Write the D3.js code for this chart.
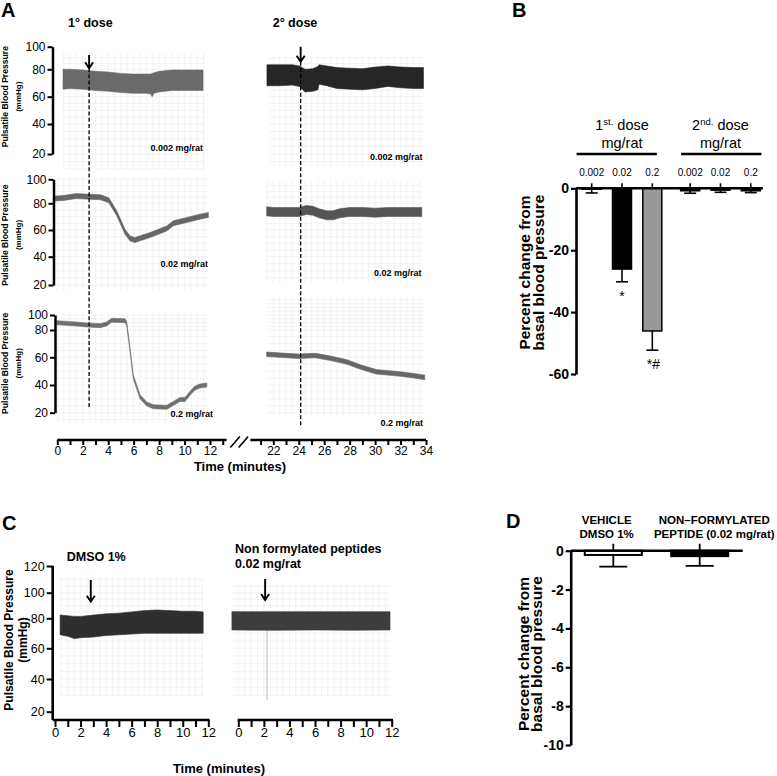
<!DOCTYPE html>
<html><head><meta charset="utf-8">
<script src="https://cdn.jsdelivr.net/npm/d3@7"></script>
<style>body{margin:0;background:#fff}svg{display:block}</style>
</head><body><svg id="fig" width="777" height="776"></svg>
<script>
// ================= DATA =================
const leftTimeTicks = [0,2,4,6,8,10,12];
const rightTimeTicks = [22,24,26,28,30,32,34];
const pressureTicks = [20,40,60,80,100];
const cPressureTicks = [20,40,60,80,100,120];
const doseTitles = ["1\u00b0 dose","2\u00b0 dose"];
const doseLabels = ["0.002 mg/rat","0.02 mg/rat","0.2 mg/rat"];
const doseTimes = [2.5, 24.15];           // injection time (min), 1st / 2nd dose

// Panel A traces. Bands: [minute, upper, lower] mmHg ; lines: [minute, mmHg]
const trace1stLow = [[0.45,80,65.5],[1,80,66],[2,79.5,65.5],[2.5,79,65],[3,78.5,64.5],[4,78,64],[5,77,63],[6,76.5,62.5],[7,76.5,62.5],[7.35,76.5,62],[7.45,77,60],[7.6,77.5,62.5],[8,78.5,63.5],[9,79.5,64.5],[10,79.5,64.5],[11,79.5,64.5],[11.45,79.5,64.5]];
const trace2ndLow = [[21.5,84,68],[22.5,84,68],[23.5,84,68.5],[24.05,83,67.5],[24.5,80,63.5],[25.1,80.5,64],[25.5,82.5,65],[25.6,84,69],[26.2,83,68],[27,81.5,66],[28,81,65.5],[29,80.5,65],[30,82,66],[31,83,67.5],[32,82,66.5],[33,81.5,66],[33.8,81.5,66]];
const trace1stMid = [[-0.18,84],[0.5,84.5],[1.5,86],[2.5,85.5],[3.4,85],[4.05,82.5],[4.67,72.5],[5.32,58.7],[5.72,53.7],[6.1,52.5],[7.29,56.2],[8.6,61.2],[9.12,65],[10.17,67.5],[11.2,70],[11.87,71.2]];
const trace2ndMid = [[21.48,74],[22,73.5],[23,73.5],[24,73.5],[24.6,75],[25.1,74.5],[25.6,72.5],[26.2,71],[26.7,71],[27.2,72.5],[28,73.5],[29,73.5],[30,73],[31,73.5],[32,73.5],[33,73.5],[33.67,73.5]];
const trace1stHigh = [[-0.05,89.8],[1.5,88],[2.3,86.7],[3.36,85.8],[3.88,88],[4.27,93],[5.32,92.4],[5.45,89],[5.72,65.4],[5.97,46],[6.5,31.6],[7.03,26.3],[7.55,24.3],[8.6,23.9],[9.12,26.7],[9.65,29.6],[10.04,29.6],[10.43,34],[10.8,37.6],[11.2,39.3],[11.75,40]];
const trace2ndHigh = [[21.48,62.2],[24,60.7],[25.3,61.3],[26.6,59.1],[27.8,56.6],[28.8,53.1],[30.1,49.5],[32,47.9],[33.3,46.4],[33.9,45.5]];

// Panel B
const barCategories = ["0.002","0.02","0.2","0.002","0.02","0.2"];
const barGroups = ["1st","1st","1st","2nd","2nd","2nd"];
const barMeans = [-0.3,-26.1,-46.1,-0.8,-0.6,-0.8];
const barErrors = [1.2,4.1,6.2,0.8,0.7,0.6];
const barMarks = ["","*","*#","","",""];
const bTicks = [0,-20,-40,-60];

// Panel C traces: [minute, upper, lower] mmHg
const cTitles = ["DMSO 1%", "Non formylated peptides", "0.02 mg/rat"];
const cInjection = [2.8, 2.1];
const traceDMSO = [[0.4,82.5,69],[1,82,68],[1.5,81.5,66.5],[2,81.5,67],[3,82.5,67.5],[4,83.5,68.5],[5,84,69],[6,85,69.5],[7,86,70],[8,86.5,70],[9,86,70],[10,85.5,70],[11,85.5,70],[11.6,85,70]];
const traceNonFormylated = [[-0.5,85.2,72.2],[3,85.2,72],[6,85.2,72.2],[9,85.2,72],[11.87,85.2,72.2]];

// Panel D
const dCategories = ["VEHICLE", "NON\u2013FORMYLATED"];
const dSubLabels = ["DMSO 1%", "PEPTIDE (0.02 mg/rat)"];
const dMeans = [-0.22,-0.28];
const dErrors = [0.6,0.5];
const dTicks = [0,-2,-4,-6,-8,-10];

// ================= LAYOUT / STYLE =================
const FONT = '"Liberation Sans", Arial, Helvetica, sans-serif';
const svg = d3.select("#fig");
svg.append("rect").attr("width",777).attr("height",776).attr("fill","#fff");

function txt(x,y,s,size,weight,anchor){
  return svg.append("text").attr("x",x).attr("y",y).text(s)
    .attr("font-family",FONT).attr("font-size",size).attr("font-weight",weight||"normal")
    .attr("text-anchor",anchor||"start").attr("fill","#000");
}
function vtxt(cx,cy,s,size,weight){
  return svg.append("text").attr("transform",`translate(${cx},${cy}) rotate(-90)`)
    .attr("dy","0.35em").attr("text-anchor","middle").text(s)
    .attr("font-family",FONT).attr("font-size",size).attr("font-weight",weight||"bold").attr("fill","#000");
}
function styleAxis(g,size,weight,domainW,tickW){
  g.attr("font-family",FONT).attr("font-size",size).attr("font-weight",weight);
  g.select(".domain").attr("stroke-width",domainW);
  g.selectAll(".tick line").attr("stroke-width",tickW);
  g.selectAll(".tick text").attr("fill","#000");
}
function drawGrid(box,tS,yS){
  const [x0,y0,x1,y1] = box;
  const g = svg.append("g").attr("stroke","#ebebeb").attr("stroke-width",0.6);
  const tA = tS.invert(x0), tB = tS.invert(x1);
  for(let t=Math.ceil(tA*2)/2; t<=tB; t+=0.5)
    g.append("line").attr("x1",tS(t)).attr("x2",tS(t)).attr("y1",y0).attr("y2",y1);
  const vA = yS.invert(y1), vB = yS.invert(y0);
  for(let v=Math.ceil(vA/5)*5; v<=vB; v+=5)
    g.append("line").attr("x1",x0).attr("x2",x1).attr("y1",yS(v)).attr("y2",yS(v));
}
function arrow(x,yTop,yTip){
  svg.append("path").attr("d",`M${x},${yTop}L${x},${yTip}M${x-4},${yTip-6}L${x},${yTip}L${x+4},${yTip-6}`)
    .attr("fill","none").attr("stroke","#000").attr("stroke-width",1.9);
}

// ---------- Panel A ----------
const tL = d3.scaleLinear().domain([0,12]).range([57.3,210]);
const tR = d3.scaleLinear().domain([22,34]).range([273.3,426]);
const yRows = [
  d3.scaleLinear().domain(pressureTicks).range([154,124,96.7,69.3,46.7]),
  d3.scaleLinear().domain(pressureTicks).range([285,256.7,230,203.3,179.3]),
  d3.scaleLinear().domain(pressureTicks).range([412.7,385,357.3,330,315])
];
const aAxisX = [52.5,53.5,55];
const aTitleY = [96.7,235,363.3];

const aPanels = [
  {data:trace1stLow,  kind:"band", t:tL, row:0, color:"#6a6a6a", grid:[63,53,205,170]},
  {data:trace2ndLow,  kind:"band", t:tR, row:0, color:"#262626", grid:[269,57,423,167]},
  {data:trace1stMid,  kind:"line", t:tL, row:1, color:"#666", h:5, grid:[55,178,208,290]},
  {data:trace2ndMid,  kind:"line", t:tR, row:1, color:"#555", h:9, grid:[266,180,422,282]},
  {data:trace1stHigh, kind:"line", t:tL, row:2, color:"#707070", h:4, grid:[57,313,208,423]},
  {data:trace2ndHigh, kind:"line", t:tR, row:2, color:"#666", h:4.5, grid:[267,297,424,417]}
];
aPanels.forEach(p=>drawGrid(p.grid,p.t,yRows[p.row]));
aPanels.forEach(p=>{
  const yS = yRows[p.row];
  const gen = p.kind==="band"
    ? d3.area().x(d=>p.t(d[0])).y0(d=>yS(d[2])).y1(d=>yS(d[1]))
    : d3.area().x(d=>p.t(d[0])).y0(d=>yS(d[1])+p.h/2).y1(d=>yS(d[1])-p.h/2);
  svg.append("path").datum(p.data).attr("d",gen).attr("fill",p.color)
    .attr("stroke",p.color).attr("stroke-width",0.6);
});

// dose labels inside each trace panel
const aLabelPos = [[203,150.5],[422.5,159.5],[208,267],[421.5,275.5],[213,417],[423,425.5]];
aLabelPos.forEach((p,i)=>txt(p[0],p[1],doseLabels[Math.floor(i/2)],9,"bold","end"));

// injection dashed lines + arrows
[[tL,doseTimes[0],[81,23.4],[92.6]],[tR,doseTimes[1],[86.7,9.9],[100]]].forEach(([tS,tm,span,top])=>{
  const x = tS(tm);
  svg.append("line").attr("x1",x).attr("x2",x).attr("y1",yRows[0](span[0])).attr("y2",yRows[2](span[1]))
    .attr("stroke","#000").attr("stroke-width",1.3).attr("stroke-dasharray","4,2.2");
  arrow(x,yRows[0](top[0]),yRows[0](span[0]));
});

// y axes
yRows.forEach((yS,i)=>{
  const g = svg.append("g").attr("transform",`translate(${aAxisX[i]},0)`)
    .call(d3.axisLeft(yS).tickValues(pressureTicks).tickSize(5).tickSizeOuter(0).tickPadding(2));
  styleAxis(g,12,"normal",2.5,2);
  vtxt(5,aTitleY[i],"Pulsatile Blood Pressure",8.6,"bold");
  vtxt(18.3,aTitleY[i],"(mmHg)",8,"bold");
});

// time axis with break
const aXY = 440;
function timeAxis(tS,ticks,labels,from,to,y,size,tick){
  const g = svg.append("g").attr("transform",`translate(0,${y})`)
    .call(d3.axisBottom(tS).tickValues(ticks).tickSize(tick).tickPadding(1)
      .tickFormat(d=>labels.includes(d)?String(d):""));
  styleAxis(g,size,"normal",0,2);
  g.select(".domain").remove();
  svg.append("line").attr("x1",tS(from)).attr("x2",tS(to)).attr("y1",y).attr("y2",y)
    .attr("stroke","#000").attr("stroke-width",2.5);
}
timeAxis(tL,d3.range(0,14),leftTimeTicks,0,13.3,aXY,12,5);
timeAxis(tR,d3.range(21,35),rightTimeTicks,20.2,34,aXY,12,5);
// axis break marks
[[13.6,14.35],[14.25,15.0]].forEach(([a,b])=>{
  svg.append("line").attr("x1",tL(a)).attr("x2",tL(b)).attr("y1",aXY+7.5).attr("y2",aXY-3.5)
    .attr("stroke","#000").attr("stroke-width",1.6);
});
txt(240,471,"Time (minutes)",13,"bold","middle");

txt(1,17,"A",20,"bold");
txt(68,26.5,doseTitles[0],12.5,"bold");
txt(272.7,26.5,doseTitles[1],12.5,"bold");

// ---------- Panel B ----------
const bY = d3.scaleLinear().domain([-60,0]).range([374,188.3]);
const bSlot = barGroups.map((g,i)=>i+(g==="2nd"?0.25:0));
const bX = d3.scaleLinear().domain([0,5.25]).range([591.7,750.8]);
const bFill = ["#fff","#000","#999","#000","#000","#000"];
const bW = 19, bCap = 12;
// error bars (below) drawn first
barMeans.forEach((m,i)=>{
  const x = bX(bSlot[i]);
  svg.append("line").attr("x1",x).attr("x2",x).attr("y1",bY(m)).attr("y2",bY(m-barErrors[i])).attr("stroke","#000").attr("stroke-width",1.6);
  svg.append("line").attr("x1",x-bCap/2).attr("x2",x+bCap/2).attr("y1",bY(m-barErrors[i])).attr("y2",bY(m-barErrors[i])).attr("stroke","#000").attr("stroke-width",1.6);
  // category tick above zero
  svg.append("line").attr("x1",x).attr("x2",x).attr("y1",bY(0)).attr("y2",bY(0)-5).attr("stroke","#000").attr("stroke-width",1.6);
});
svg.selectAll(".bbar").data(barMeans).enter().append("rect")
  .attr("x",(d,i)=>bX(bSlot[i])-bW/2).attr("width",bW)
  .attr("y",bY(0)).attr("height",d=>bY(d)-bY(0))
  .attr("fill",(d,i)=>bFill[i]).attr("stroke","#000").attr("stroke-width",1.5);
barMarks.forEach((s,i)=>{ if(s) txt(bX(bSlot[i])+(s.length>1?1:0),bY(barMeans[i]-barErrors[i])+19,s,14,"normal","middle"); });
barCategories.forEach((c,i)=>txt(bX(bSlot[i]),175.5,c,10,"normal","middle"));
// zero line
svg.append("line").attr("x1",576).attr("x2",bX(5.65)).attr("y1",bY(0)).attr("y2",bY(0)).attr("stroke","#000").attr("stroke-width",2.6);
{
  const g = svg.append("g").attr("transform","translate(576,0)")
    .call(d3.axisLeft(bY).tickValues(bTicks).tickSize(5).tickSizeOuter(0).tickPadding(2).tickFormat(d=>String(d)));
  styleAxis(g,14,"bold",2.6,2.2);
}
// group headers
[["1st",[-0.5,2.15],1],["2nd",[2.95,5.6],4.25]].forEach(([g,ext,c])=>{
  svg.append("line").attr("x1",bX(ext[0])).attr("x2",bX(ext[1])).attr("y1",154).attr("y2",154).attr("stroke","#000").attr("stroke-width",2.4);
  const t = svg.append("text").attr("x",bX(c)).attr("y",130).attr("text-anchor","middle")
    .attr("font-family",FONT).attr("font-size",14.5).attr("fill","#000");
  t.append("tspan").text(g.slice(0,1));
  t.append("tspan").text(g.slice(1)+".").attr("font-size",9.5).attr("dy",-5);
  t.append("tspan").text(" dose").attr("dy",5);
  txt(bX(c),148,"mg/rat",14.5,"normal","middle");
});
vtxt(525,272.5,"Percent change from",15.5,"bold");
vtxt(539,272.5,"basal blood pressure",15.5,"bold");
txt(512,16.5,"B",20,"bold");

// ---------- Panel C ----------
const cY = d3.scaleLinear().domain(cPressureTicks).range([711.7,679,648.3,618.3,592.7,566]);
const cT = [d3.scaleLinear().domain([0,12]).range([55,208.3]), d3.scaleLinear().domain([0,12]).range([238.3,391.7])];
const cGrids = [[60,577,203.5,697],[232,585,390,697]];
const cColors = ["#2e2e2e","#3d3d3d"];
[traceDMSO,traceNonFormylated].forEach((tr,i)=>{
  drawGrid(cGrids[i],cT[i],cY);
});
// thin injection mark on right recording
svg.append("line").attr("x1",cT[1](2.25)).attr("x2",cT[1](2.25)).attr("y1",cY(72)).attr("y2",cY(27))
  .attr("stroke","#bbb").attr("stroke-width",1);
[traceDMSO,traceNonFormylated].forEach((tr,i)=>{
  svg.append("path").datum(tr)
    .attr("d",d3.area().x(d=>cT[i](d[0])).y0(d=>cY(d[2])).y1(d=>cY(d[1])))
    .attr("fill",cColors[i]).attr("stroke",cColors[i]).attr("stroke-width",0.6);
});
arrow(cT[0](cInjection[0]),cY(109.5),cY(93));
arrow(cT[1](cInjection[1]),cY(110.3),cY(94.3));
{
  const g = svg.append("g").attr("transform","translate(52.7,0)")
    .call(d3.axisLeft(cY).tickValues(cPressureTicks).tickSize(6).tickSizeOuter(0).tickPadding(2));
  styleAxis(g,12.5,"normal",0,2);
  g.select(".domain").remove();
  svg.append("line").attr("x1",52.7).attr("x2",52.7).attr("y1",cY(120)).attr("y2",720).attr("stroke","#000").attr("stroke-width",2.6);
}
const cXY = 720;
function cAxis(tS,from,to){
  const g = svg.append("g").attr("transform",`translate(0,${cXY})`)
    .call(d3.axisBottom(tS).tickValues(d3.range(0,13)).tickSize(7).tickPadding(1)
      .tickFormat(d=>leftTimeTicks.includes(d)?String(d):""));
  styleAxis(g,13,"normal",0,2);
  g.select(".domain").remove();
  svg.append("line").attr("x1",from).attr("x2",tS(to)).attr("y1",cXY).attr("y2",cXY).attr("stroke","#000").attr("stroke-width",2.6);
}
cAxis(cT[0],52.7,12.1);
cAxis(cT[1],cT[1](-0.05),12.1);
vtxt(8.3,640,"Pulsatile Blood Pressure",12,"bold");
vtxt(22.5,640,"(mmHg)",12,"bold");
txt(219,772.5,"Time (minutes)",13,"bold","middle");
txt(66.7,561,cTitles[0],12.5,"bold");
txt(235,552.5,cTitles[1],12.5,"bold");
txt(235,567.5,cTitles[2],12.5,"bold");
txt(2,530,"C",20,"bold");

// ---------- Panel D ----------
const dY = d3.scaleLinear().domain([-10,0]).range([745,550.7]);
const dX = d3.scalePoint().domain(dCategories).range([613.3,699.7]);
const dFill = ["#fff","#000"];
const dW = 57, dCap = 28;
dMeans.forEach((m,i)=>{
  const x = dX(dCategories[i]);
  const lo = dY(m-dErrors[i]);
  svg.append("line").attr("x1",x).attr("x2",x).attr("y1",dY(m)).attr("y2",lo).attr("stroke","#000").attr("stroke-width",1.8);
  svg.append("line").attr("x1",x-dCap/2).attr("x2",x+dCap/2).attr("y1",lo).attr("y2",lo).attr("stroke","#000").attr("stroke-width",1.8);
  svg.append("line").attr("x1",x).attr("x2",x).attr("y1",dY(0)).attr("y2",dY(0)-7).attr("stroke","#000").attr("stroke-width",1.8);
});
svg.selectAll(".dbar").data(dMeans).enter().append("rect")
  .attr("x",(d,i)=>dX(dCategories[i])-dW/2).attr("width",dW)
  .attr("y",dY(0)).attr("height",d=>dY(d)-dY(0))
  .attr("fill",(d,i)=>dFill[i]).attr("stroke","#000").attr("stroke-width",2);
svg.append("line").attr("x1",570.7).attr("x2",742.7).attr("y1",dY(0)).attr("y2",dY(0)).attr("stroke","#000").attr("stroke-width",2.6);
{
  const g = svg.append("g").attr("transform","translate(570.7,0)")
    .call(d3.axisLeft(dY).tickValues(dTicks).tickSize(5).tickSizeOuter(0).tickPadding(2).tickFormat(d=>String(d)));
  styleAxis(g,14,"bold",2.6,2.2);
}
const dLabelShift = [-6.6,14.6];
dCategories.forEach((c,i)=>{
  txt(dX(c)+dLabelShift[i],524,c,11.5,"bold","middle");
  txt(dX(c)+dLabelShift[i],537.5,dSubLabels[i],11.5,"bold","middle");
});
vtxt(523.3,654,"Percent change from",15.5,"bold");
vtxt(537,654,"basal blood pressure",15.5,"bold");
txt(506,528,"D",20,"bold");
</script></body></html>
